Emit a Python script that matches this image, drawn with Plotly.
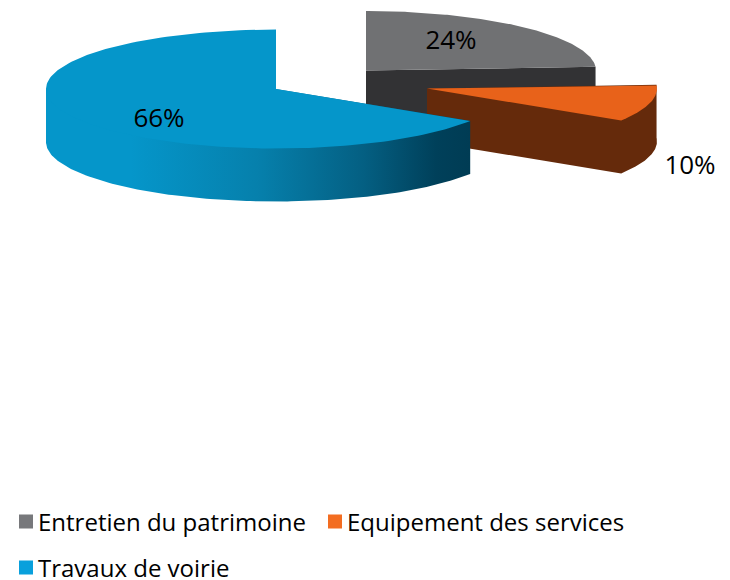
import numpy as np
import plotly.graph_objects as go

categories = ["Entretien du patrimoine", "Equipement des services", "Travaux de voirie"]
values = [24, 10, 66]
top_colors = ["#707173", "#e8621a", "#0596ca"]
side_colors = ["#323234", "#652a0b", "#0596ca"]
legend_colors = ["#77787b", "#f36d21", "#09a0dc"]
centers = [(366, 70.5), (427, 88.5), (276, 89)]
label_pos = [(451, 42), (690, 167), (159, 120)]
legend_rows = [(9, 522), (318, 522), (9, 568)]

W, H = 730, 600  # the page is slightly taller than the window so the last legend row is not clipped
RX, RY, DEPTH = 230, 59.5, 53
FONT = "Open Sans"

fractions = np.array(values) / sum(values)
stops = np.concatenate([[0], np.cumsum(fractions)]) * 2 * np.pi


def rim(cx, cy, a0, a1, n=160):
    t = np.linspace(a0, a1, n)
    return cx + RX * np.sin(t), cy - RY * np.cos(t)


fig = go.Figure()


def add_poly(x, y, color=None, gradient=None):
    kw = dict(fillgradient=gradient) if gradient else dict(fillcolor=color)
    fig.add_trace(go.Scatter(x=x, y=y, mode="lines", fill="toself", line=dict(width=0),
                             hoverinfo="skip", showlegend=False, **kw))


for i in range(3):
    cx, cy = centers[i]
    a0, a1 = stops[i], stops[i + 1]
    tx, ty = rim(cx, cy, a0, a1)
    if i == 0:
        # only the cut face at the slice's end is visible
        add_poly([cx, cx, tx[-1], tx[-1]], [cy, cy + DEPTH, ty[-1] + DEPTH, ty[-1]], side_colors[i])
    elif i == 1:
        # cut face plus outer rim, as one outline
        add_poly(np.r_[cx, cx, tx[::-1], tx[0], cx],
                 np.r_[cy, cy + DEPTH, ty[::-1] + DEPTH, ty[0], cy], side_colors[i])
    else:
        lo, hi = max(a0, np.pi / 2), min(a1, 3 * np.pi / 2)
        rx, ry = rim(cx, cy, lo, hi)
        add_poly(np.r_[rx, rx[-1], cx, rx[0]], np.r_[ry + DEPTH, ry[-1], cy, ry[0]], gradient=dict(
            type="horizontal",
            colorscale=[[0, "#0596ca"], [0.2, "#0596ca"], [0.5, "#0680ac"],
                        [0.75, "#045f82"], [0.92, "#00405a"], [1, "#003c54"]]))
    add_poly(np.r_[cx, tx, cx], np.r_[cy, ty, cy], top_colors[i])

lx = [p[0] for p in label_pos]
ly = [p[1] for p in label_pos]
fig.add_trace(go.Scatter(x=lx, y=ly, mode="text", text=[f"{v}%" for v in values],
                         textposition="middle center", hoverinfo="skip", showlegend=False,
                         textfont=dict(family=FONT, size=26, color="#000000")))

names = ["legend", "legend2", "legend3"]
for i, cat in enumerate(categories):
    fig.add_trace(go.Scatter(x=[None], y=[None], mode="markers", name=cat, legend=names[i],
                             marker=dict(symbol="square", size=14, color=legend_colors[i],
                                         angle=90, standoff=8)))

legends = {}
for i, nm in enumerate(names):
    px, py = legend_rows[i]
    legends[nm] = dict(x=px / W, y=1 - py / H, xanchor="left", yanchor="middle",
                       bgcolor="rgba(0,0,0,0)", indentation=-11,
                       font=dict(family=FONT, size=24, color="#000000"))

fig.update_layout(width=W, height=H,
                  margin=dict(l=0, r=0, t=0, b=0, autoexpand=False),
                  paper_bgcolor="white", plot_bgcolor="white",
                  xaxis=dict(range=[0, W], visible=False, fixedrange=True),
                  yaxis=dict(range=[H, 0], visible=False, fixedrange=True),
                  **legends)
fig.write_html("out.html", config=dict(displayModeBar=False),
               post_script="document.body.style.margin='0';document.body.style.overflow='hidden';")
